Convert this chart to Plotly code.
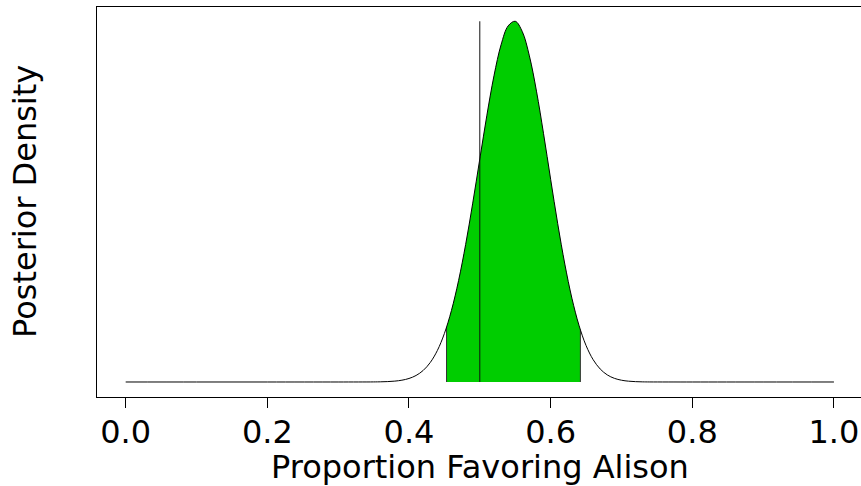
import plotly.graph_objects as go

# Posterior density of the proportion favoring Alison
proportion = [0.0, 0.1, 0.2, 0.3,
              0.35, 0.36, 0.37, 0.38, 0.39, 0.40, 0.41, 0.42, 0.43, 0.44,
              0.45, 0.46, 0.47, 0.48, 0.49, 0.50, 0.51, 0.52, 0.53, 0.54,
              0.55, 0.56, 0.57, 0.58, 0.59, 0.60, 0.61, 0.62, 0.63, 0.64,
              0.65, 0.66, 0.67, 0.68, 0.69, 0.70, 0.71, 0.72, 0.73, 0.74,
              0.8, 0.9, 1.0]
density = [0.0, 0.0, 0.0, 0.0,
           0.0017, 0.0041, 0.0092, 0.0199, 0.0409, 0.0796, 0.1477, 0.2612, 0.4411, 0.7117,
           1.0986, 1.6234, 2.2981, 3.1168, 4.0527, 5.0538, 6.0461, 6.9384, 7.6399, 8.0688,
           8.1736, 7.9387, 7.3899, 6.5897, 5.6255, 4.5941, 3.5861, 2.6726, 1.8996, 1.2858,
           0.8269, 0.5060, 0.2933, 0.1606, 0.0830, 0.0404, 0.0184, 0.0079, 0.0031, 0.0012,
           0.0, 0.0, 0.0]

# 95% credible interval and the density at its ends
ci_bounds = [0.453, 0.642]
ci_density = [1.2407, 1.1815]

# reference value (vertical line)
ref_value = 0.5

tick_vals = [0.0, 0.2, 0.4, 0.6, 0.8, 1.0]
tick_text = ["0.0", "0.2", "0.4", "0.6", "0.8", "1.0"]

FONT = "DejaVu Sans"
FS = 32

W, H = 861, 486
PLOT_L, PLOT_T, PLOT_B = 97, 7, 397   # pixel edges of the plot area
PLOT_W = W - PLOT_L
PLOT_H = PLOT_B - PLOT_T

# shaded region built from the data
ci_x = [ci_bounds[0]] + [p for p in proportion if ci_bounds[0] < p < ci_bounds[1]] + [ci_bounds[1]]
ci_y = [ci_density[0]] + [d for p, d in zip(proportion, density) if ci_bounds[0] < p < ci_bounds[1]] + [ci_density[1]]

fig = go.Figure()
fig.add_trace(go.Scatter(x=ci_x, y=ci_y, mode="lines", line=dict(shape="spline", color="#00CD00", width=0),
                         fill="tozeroy", fillcolor="#00CD00", hoverinfo="skip", showlegend=False))
for bx, by in zip(ci_bounds, ci_density):
    fig.add_trace(go.Scatter(x=[bx, bx], y=[0, by], mode="lines",
                             line=dict(color="#333333", width=1), showlegend=False, hoverinfo="skip"))
fig.add_trace(go.Scatter(x=proportion, y=density, mode="lines",
                         line=dict(shape="spline", color="black", width=1), showlegend=False))
fig.add_trace(go.Scatter(x=[ref_value, ref_value], y=[0, max(density)], mode="lines",
                         line=dict(color="#111111", width=1), showlegend=False))

fig.update_layout(
    width=W, height=H,
    margin=dict(l=PLOT_L, r=0, t=PLOT_T, b=H - PLOT_B),
    paper_bgcolor="white", plot_bgcolor="white",
    font=dict(family=FONT, size=FS, color="black"),
    xaxis=dict(range=[-0.0405, 1.0382], tickvals=tick_vals, ticktext=tick_text,
               ticks="outside", ticklen=10, tickwidth=1, tickcolor="black",
               ticklabelstandoff=-3,
               showline=True, mirror=True, linecolor="black", linewidth=1,
               showgrid=False, zeroline=False, tickfont=dict(family=FONT, size=FS)),
    yaxis=dict(range=[-0.340, 8.497], showticklabels=False, ticks="",
               showline=True, mirror=False, linecolor="black", linewidth=1,
               showgrid=False, zeroline=False),
    annotations=[
        dict(text="Proportion Favoring Alison", xref="paper", yref="paper",
             x=(480 - PLOT_L) / PLOT_W, y=-(467 - PLOT_B) / PLOT_H, xanchor="center", yanchor="middle",
             showarrow=False, font=dict(family=FONT, size=FS)),
        dict(text="Posterior Density", xref="paper", yref="paper",
             x=(25 - PLOT_L) / PLOT_W, y=0.5, xanchor="center", yanchor="middle", textangle=-90,
             showarrow=False, font=dict(family=FONT, size=FS)),
    ],
)

fig.write_html("out.html", config={"displayModeBar": False},
               post_script="document.body.style.margin='0';document.body.style.overflow='hidden';")
